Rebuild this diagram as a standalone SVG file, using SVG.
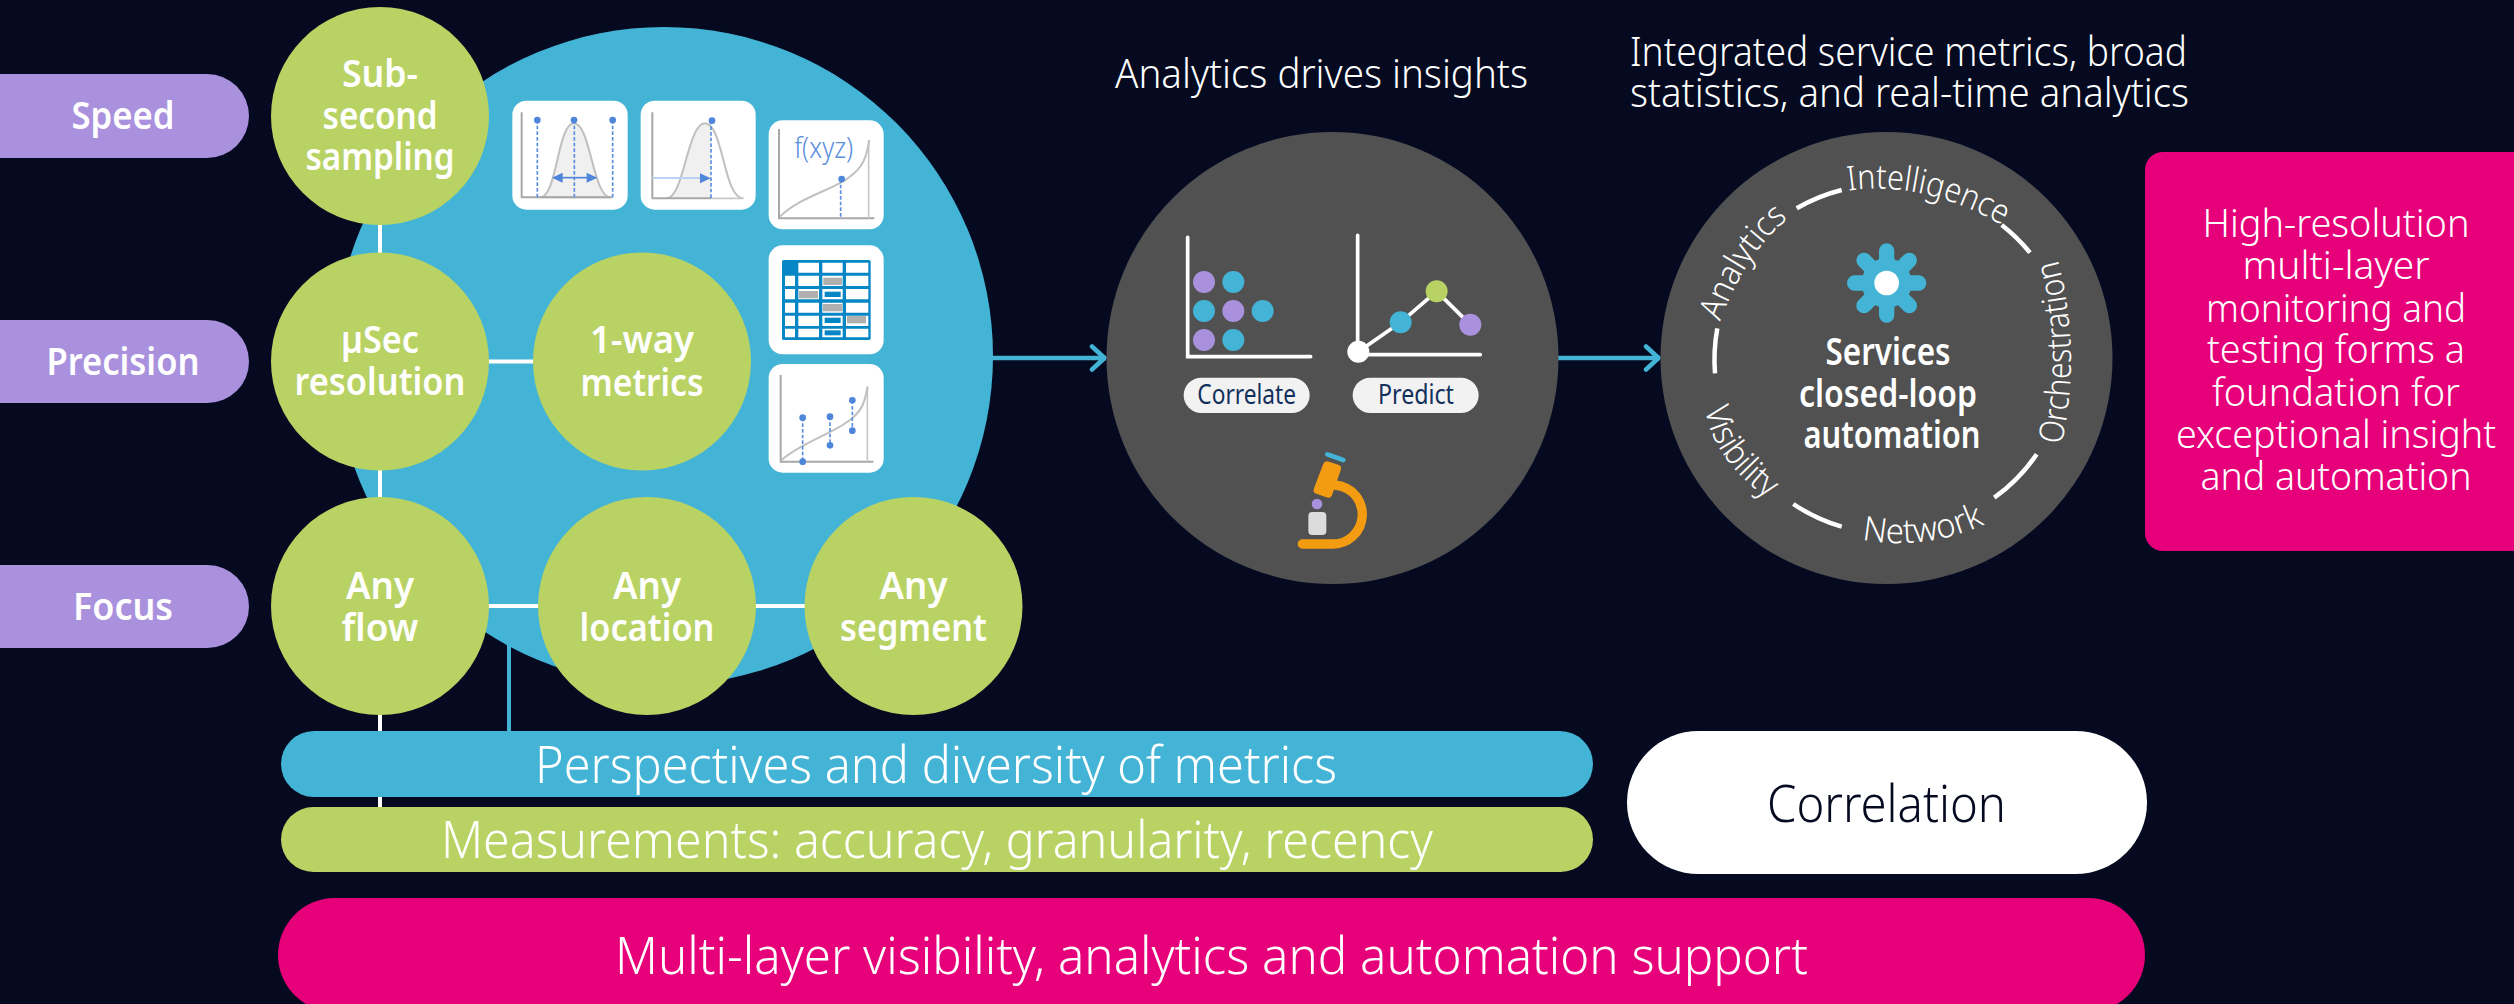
<svg xmlns="http://www.w3.org/2000/svg" width="2514" height="1004" viewBox="0 0 2514 1004">
<defs>
<style>
text{font-family:"Noto Sans","Open Sans",sans-serif;fill:#fff;text-anchor:middle}
.b{font-weight:600;font-size:37px}
.l{font-weight:300}
.big{font-weight:300;font-size:52px}
.box{font-weight:300;font-size:38px}
.ttl{font-weight:300;font-size:41px}
.ring{font-weight:300;font-size:34px;text-anchor:start}
.grn{fill:#B9D264}.blu{fill:#43B4D6}.pur{fill:#A991DE}.pnk{fill:#E6007A}.gry{fill:#515151}.wht{fill:#fff}
.wl{stroke:#fff;stroke-width:4;fill:none}
.bl{stroke:#43B4D6;stroke-width:4;fill:none}
.arrow{stroke:#43B4D6;stroke-width:4.5;fill:none;marker-end:url(#chev)}
.rg{stroke:#fff;stroke-width:4.5;fill:none}
.ic{fill:#fff}
.ax{stroke:#a8a8a8;stroke-width:6;fill:none}
.axl{stroke:#c8c8c8;stroke-width:5;fill:none}
.cv{stroke:#c0c0c0;stroke-width:6;fill:none}
.bell{fill:#f0f0f0;stroke:#c0c0c0;stroke-width:6}
.ds{stroke:#5a8fdc;stroke-width:5;stroke-dasharray:11 6;fill:none}
.dt{fill:#4f86d9}
.ws{stroke:#fff;stroke-width:11;stroke-linecap:round;stroke-linejoin:miter;fill:none}
.cell{fill:#fff}.tg{fill:#b0b0b0}.tb{fill:#0686c5;stroke:#fff;stroke-width:4}
</style>
<marker id="chev" markerUnits="userSpaceOnUse" markerWidth="24" markerHeight="32" refX="19" refY="14" orient="auto" viewBox="0 0 24 32"><path d="M5 2.500L17.500 14L5 25.500" fill="none" stroke="#43B4D6" stroke-width="4.500" stroke-linecap="round" stroke-linejoin="round"/></marker>
<path id="pInt" d="M1848.300 190.700Q1923.300 180 2001.700 225L2035 248"/>
<path id="pOrc" d="M2061.700 445Q2081.700 351.700 2058 260L2048 225"/>
<path id="pAna" d="M1720 321.700Q1746.700 251.700 1786.700 220L1820 196"/>
<path id="pVis" d="M1705 408.300Q1711.700 455 1760 493L1795 520"/>
<path id="pNet" d="M1861.700 539.300Q1922.700 551.300 1983.300 525L2015 505"/>
</defs>
<rect width="2514" height="1004" fill="#050A20"/>

<g id="metrics-disc"><circle class="blu" cx="664" cy="356" r="329"/></g>

<g id="connectors">
<path class="bl" d="M509 640V735"/>
<path class="wl" d="M380 220V810M485 361.500H540M485 606H810"/>
<path class="arrow" d="M990 358H1106"/>
<path class="arrow" d="M1558 358H1660"/>
</g>

<g id="label-speed"><path class="pur" d="M0 74H207a42 42 0 0 1 0 84H0Z"/><text class="b" x="123" y="129" textLength="103" lengthAdjust="spacingAndGlyphs">Speed</text></g>
<g id="label-precision"><path class="pur" d="M0 320H207.500a41.500 41.500 0 0 1 0 83H0Z"/><text class="b" x="123" y="375" textLength="153" lengthAdjust="spacingAndGlyphs">Precision</text></g>
<g id="label-focus"><path class="pur" d="M0 565H207.500a41.500 41.500 0 0 1 0 83H0Z"/><text class="b" x="123" y="620" textLength="100" lengthAdjust="spacingAndGlyphs">Focus</text></g>

<g id="node-subsecond"><circle class="grn" cx="380" cy="116" r="109"/>
<text class="b" x="380" y="87" textLength="76" lengthAdjust="spacingAndGlyphs">Sub-</text><text class="b" x="380" y="129" textLength="115" lengthAdjust="spacingAndGlyphs">second</text><text class="b" x="380" y="170" textLength="149" lengthAdjust="spacingAndGlyphs">sampling</text></g>
<g id="node-usec"><circle class="grn" cx="380" cy="361.500" r="109"/>
<text class="b" x="380" y="353" textLength="78" lengthAdjust="spacingAndGlyphs">µSec</text><text class="b" x="380" y="395" textLength="171" lengthAdjust="spacingAndGlyphs">resolution</text></g>
<g id="node-oneway"><circle class="grn" cx="642" cy="361.500" r="109"/>
<text class="b" x="642" y="353" textLength="104" lengthAdjust="spacingAndGlyphs">1-way</text><text class="b" x="642" y="396" textLength="123" lengthAdjust="spacingAndGlyphs">metrics</text></g>
<g id="node-anyflow"><circle class="grn" cx="380" cy="606" r="109"/>
<text class="b" x="380" y="599" textLength="68" lengthAdjust="spacingAndGlyphs">Any</text><text class="b" x="380" y="641" textLength="77" lengthAdjust="spacingAndGlyphs">flow</text></g>
<g id="node-anylocation"><circle class="grn" cx="647" cy="606" r="109"/>
<text class="b" x="647" y="599" textLength="68" lengthAdjust="spacingAndGlyphs">Any</text><text class="b" x="647" y="641" textLength="135" lengthAdjust="spacingAndGlyphs">location</text></g>
<g id="node-anysegment"><circle class="grn" cx="913.500" cy="606" r="109"/>
<text class="b" x="913.500" y="599" textLength="68" lengthAdjust="spacingAndGlyphs">Any</text><text class="b" x="913.500" y="641" textLength="147" lengthAdjust="spacingAndGlyphs">segment</text></g>

<g id="metric-icons" transform="translate(480 80) scale(.33333)">
<g id="icon-bell-1"><rect class="ic" x="97" y="62" width="346" height="327" rx="42"/>
<path class="bell" d="M180 352C232 352 232 130 282 130C332 130 338 352 392 352Z"/><path class="ax" d="M125 97V352H397"/>
<path class="ds" d="M172 120V352M283 120V352M398 120V352"/><circle class="dt" cx="172" cy="120" r="10"/><circle class="dt" cx="282" cy="120" r="10"/><circle class="dt" cx="398" cy="120" r="10"/>
<path d="M245 293H325" stroke="#4f86d9" stroke-width="5"/><path class="dt" d="M216 293L248 278V308ZM352 293L320 278V308Z"/></g>
<g id="icon-bell-2"><rect class="ic" x="482" y="62" width="345" height="327" rx="42"/>
<path d="M560 355C612 355 622 130 675 130C685 130 692 136 693 140V355Z" fill="#f0f0f0"/><path class="cv" d="M560 355C612 355 622 130 675 130C730 130 730 355 790 355"/>
<path class="axl" d="M693 355H790"/><path class="ax" d="M517 97V355H693"/>
<path d="M517 294H665" stroke="#bcd2f0" stroke-width="6"/><path class="dt" d="M692 295L660 280V310Z"/>
<path class="ds" d="M693 122V355"/><circle class="dt" cx="696" cy="122" r="10"/></g>
<g id="icon-fxyz"><rect class="ic" x="866" y="121" width="345" height="327" rx="42"/>
<path class="ax" d="M897 147V415H1183"/><path class="axl" d="M1166 180V415"/><path class="cv" d="M900 410C960 350 1060 330 1110 290C1150 260 1160 230 1168 180"/>
<text x="1031" y="235" font-size="90" font-weight="300" textLength="177" lengthAdjust="spacingAndGlyphs" style="fill:#5a8fdc">f(xyz)</text>
<path class="ds" d="M1082 297V415"/><circle class="dt" cx="1085" cy="297" r="10"/></g>
<g id="icon-table"><rect class="ic" x="866" y="496" width="345" height="327" rx="42"/>
<rect x="906" y="540" width="266" height="240" rx="5" fill="#0686c5"/>
<path class="cell" d="M955 548h62v30h-62zM1027 548h61v30h-61zM1098 548h67v30h-67zM915 587h30v31h-30zM955 587h62v31h-62zM1027 587h61v31h-61zM1098 587h67v31h-67zM915 627h30v31h-30zM955 627h62v31h-62zM1027 627h61v31h-61zM1098 627h67v31h-67zM915 668h30v30h-30zM955 668h62v30h-62zM1027 668h61v30h-61zM1098 668h67v30h-67zM915 707h30v31h-30zM955 707h62v31h-62zM1027 707h61v31h-61zM1098 707h67v31h-67zM915 746h30v26h-30zM955 746h62v26h-62zM1027 746h61v26h-61zM1098 746h67v26h-67z"/>
<rect class="tg" x="1030" y="593" width="56" height="22"/><rect class="tg" x="957" y="633" width="57" height="22"/><rect class="tb" x="1032" y="633" width="52" height="20"/><rect class="tg" x="1029" y="672" width="58" height="22"/><rect class="tb" x="1032" y="711" width="52" height="20"/><rect class="tg" x="1101" y="708" width="57" height="22"/><rect class="tb" x="1032" y="749" width="52" height="19"/></g>
<g id="icon-scatter"><rect class="ic" x="866" y="852" width="345" height="326" rx="42"/>
<path class="ax" d="M902 885V1145H1180"/><path class="axl" d="M1162 920V1145"/><path class="cv" d="M905 1140C960 1090 1060 1060 1110 1020C1150 990 1155 960 1163 920"/>
<path class="ds" d="M968 1013V1145M1050 1010V1096M1117 961V1052"/>
<circle class="dt" cx="968" cy="1013" r="10"/><circle class="dt" cx="968" cy="1145" r="10"/><circle class="dt" cx="1050" cy="1010" r="10"/><circle class="dt" cx="1050" cy="1096" r="10"/><circle class="dt" cx="1117" cy="961" r="10"/><circle class="dt" cx="1117" cy="1052" r="10"/></g>
</g>

<g id="title-insights"><text class="ttl" x="1321.500" y="88" textLength="413" lengthAdjust="spacingAndGlyphs">Analytics drives insights</text></g>
<g id="title-integrated"><text class="ttl" x="1908.500" y="66" textLength="557" lengthAdjust="spacingAndGlyphs">Integrated service metrics, broad</text><text class="ttl" x="1909.500" y="107" textLength="559" lengthAdjust="spacingAndGlyphs">statistics, and real-time analytics</text></g>

<g id="node-analytics"><circle class="gry" cx="1332.500" cy="358" r="226"/>
<g transform="translate(1090 180) scale(.33333)">
<path class="ws" d="M293 172V530H662"/>
<circle class="pur" cx="342" cy="306" r="33"/><circle class="blu" cx="430" cy="306" r="33"/><circle class="blu" cx="342" cy="393" r="33"/><circle class="pur" cx="430" cy="393" r="33"/><circle class="blu" cx="518" cy="393" r="33"/><circle class="pur" cx="342" cy="480" r="33"/><circle class="blu" cx="430" cy="480" r="33"/>
<path class="ws" d="M803 166V524H1171"/><path d="M805 515L932 427L1040 334L1141 434" stroke="#fff" stroke-width="11" fill="none"/>
<circle class="wht" cx="805" cy="515" r="33"/><circle class="blu" cx="932" cy="427" r="33"/><circle class="grn" cx="1040" cy="334" r="33"/><circle class="pur" cx="1141" cy="434" r="33"/>
<rect x="281" y="593" width="378" height="106" rx="53" fill="#f2f2f2"/><rect x="788" y="593" width="378" height="106" rx="53" fill="#f2f2f2"/>
<text x="470" y="673" font-size="84" font-weight="400" textLength="296" lengthAdjust="spacingAndGlyphs" style="fill:#12305c">Correlate</text>
<text x="978" y="673" font-size="84" font-weight="400" textLength="228" lengthAdjust="spacingAndGlyphs" style="fill:#12305c">Predict</text>
<path d="M712 823L760 840" stroke="#43B4D6" stroke-width="14" stroke-linecap="round"/>
<path d="M711 856L741 866L715 941L683 930Z" fill="#F39C12" stroke="#F39C12" stroke-width="24" stroke-linejoin="round"/>
<path d="M735 915C795 922 817 968 817 1005C815 1060 770 1092 730 1092H637" fill="none" stroke="#F39C12" stroke-width="28" stroke-linecap="round"/>
<circle class="pur" cx="681" cy="972" r="16"/><rect x="655" y="996" width="54" height="69" rx="12" fill="#dcdcdc"/>
</g></g>

<g id="node-automation"><circle class="gry" cx="1886.500" cy="358" r="226"/>
<g transform="translate(1640 130) scale(.33333)"><g stroke="#43B4D6" stroke-width="46" stroke-linecap="round"><path d="M740 363V555M644 459H836M672 391L808 527M808 391L672 527"/></g><circle class="blu" cx="740" cy="459" r="75"/><circle class="wht" cx="740" cy="459" r="37"/></g>
<text class="b" x="1888" y="365" textLength="125" lengthAdjust="spacingAndGlyphs">Services</text><text class="b" x="1888" y="407" textLength="178" lengthAdjust="spacingAndGlyphs">closed-loop</text><text class="b" x="1892" y="448" textLength="177" lengthAdjust="spacingAndGlyphs">automation</text>
<path class="rg" d="M1796.700 208.300A176 176 0 0 1 1841.700 190"/><path class="rg" d="M2001.700 225A176 176 0 0 1 2030 252.700"/><path class="rg" d="M2036.700 454.300A176 176 0 0 1 1994.300 497.700"/><path class="rg" d="M1841.700 526.700A176 176 0 0 1 1793.300 504"/><path class="rg" d="M1715 373.300A176 176 0 0 1 1717.300 328.300"/>
<text class="ring"><textPath href="#pInt" textLength="161" lengthAdjust="spacingAndGlyphs">Intelligence</textPath></text>
<text class="ring"><textPath href="#pOrc" textLength="187" lengthAdjust="spacingAndGlyphs">Orchestration</textPath></text>
<text class="ring"><textPath href="#pAna" textLength="125" lengthAdjust="spacingAndGlyphs">Analytics</textPath></text>
<text class="ring"><textPath href="#pVis" textLength="113" lengthAdjust="spacingAndGlyphs">Visibility</textPath></text>
<text class="ring"><textPath href="#pNet" textLength="126" lengthAdjust="spacingAndGlyphs">Network</textPath></text>
</g>

<g id="bar-perspectives"><rect class="blu" x="281" y="731" width="1312" height="66" rx="33"/><text class="big" x="936" y="783" textLength="802" lengthAdjust="spacingAndGlyphs">Perspectives and diversity of metrics</text></g>
<g id="bar-measurements"><rect class="grn" x="281" y="807" width="1312" height="65" rx="32.500"/><text class="big" x="937" y="858" textLength="992" lengthAdjust="spacingAndGlyphs">Measurements: accuracy, granularity, recency</text></g>
<g id="bar-correlation"><rect class="wht" x="1627" y="731" width="520" height="143" rx="71.500"/><text class="big" x="1886.500" y="822" textLength="239" lengthAdjust="spacingAndGlyphs" style="fill:#050A20">Correlation</text></g>
<g id="bar-multilayer"><rect class="pnk" x="278" y="898" width="1867" height="114" rx="57"/><text class="big" x="1211.500" y="974" textLength="1193" lengthAdjust="spacingAndGlyphs">Multi-layer visibility, analytics and automation support</text></g>
<g id="box-summary"><rect class="pnk" x="2145" y="152" width="400" height="399" rx="18"/>
<text class="box" x="2336" y="237" textLength="267" lengthAdjust="spacingAndGlyphs">High-resolution</text>
<text class="box" x="2336" y="279" textLength="187" lengthAdjust="spacingAndGlyphs">multi-layer</text>
<text class="box" x="2336" y="322" textLength="260" lengthAdjust="spacingAndGlyphs">monitoring and</text>
<text class="box" x="2336" y="363" textLength="258" lengthAdjust="spacingAndGlyphs">testing forms a</text>
<text class="box" x="2336" y="406" textLength="248" lengthAdjust="spacingAndGlyphs">foundation for</text>
<text class="box" x="2336" y="448" textLength="320" lengthAdjust="spacingAndGlyphs">exceptional insight</text>
<text class="box" x="2336" y="490" textLength="271" lengthAdjust="spacingAndGlyphs">and automation</text></g>
</svg>
